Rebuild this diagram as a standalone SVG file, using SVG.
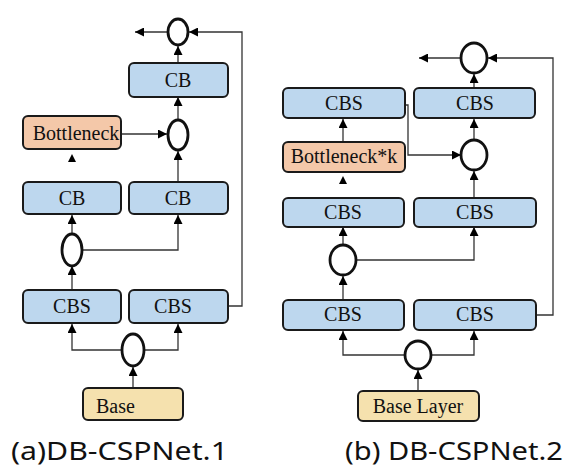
<svg xmlns="http://www.w3.org/2000/svg" width="569" height="466" viewBox="0 0 569 466">
<style>
.blue{fill:#BDD7EE;stroke:#1a1a1a;stroke-width:2}
.peach{fill:#F4C8A9;stroke:#1a1a1a;stroke-width:2}
.base{fill:#F5E1AE;stroke:#1a1a1a;stroke-width:2}
.op{fill:#fff;stroke:#111;stroke-width:2.8}
.t{font-family:"Liberation Serif","Times New Roman",serif;font-size:20px;fill:#111;text-anchor:middle}
.cap{font-family:"Noto Sans","Open Sans",sans-serif;font-size:25px;fill:#111}
.ln{fill:none;stroke:#333;stroke-width:1.3}
</style>
<defs>
<marker id="ah" viewBox="0 0 10 10" refX="10" refY="5" markerWidth="9" markerHeight="9" markerUnits="userSpaceOnUse" orient="auto">
<path d="M0,0 L10,5 L0,10 z" fill="#000"/>
</marker>
</defs>
<g id="connectors">
<path class="ln" d="M168,32 L135,32" marker-end="url(#ah)"/>
<path class="ln" d="M228,306 L242,306 L242,32 L189,32" marker-end="url(#ah)"/>
<path class="ln" d="M178,63 L178,46" marker-end="url(#ah)"/>
<path class="ln" d="M178,120 L178,97" marker-end="url(#ah)"/>
<path class="ln" d="M121,134 L167,134" marker-end="url(#ah)"/>
<path class="ln" d="M178,182 L178,151" marker-end="url(#ah)"/>
<path d="M68,162 L72,154 L76,162 z" fill="#000"/>
<path class="ln" d="M72,234 L72,215" marker-end="url(#ah)"/>
<path class="ln" d="M82,250 L178,250 L178,215" marker-end="url(#ah)"/>
<path class="ln" d="M72,290 L72,266" marker-end="url(#ah)"/>
<path class="ln" d="M122,350 L72,350 L72,324" marker-end="url(#ah)"/>
<path class="ln" d="M145,350 L178,350 L178,324" marker-end="url(#ah)"/>
<path class="ln" d="M133,388 L133,367" marker-end="url(#ah)"/>
<path class="ln" d="M461,58 L419,58" marker-end="url(#ah)"/>
<path class="ln" d="M536,315 L553,315 L553,58 L488,58" marker-end="url(#ah)"/>
<path class="ln" d="M474,88 L474,74" marker-end="url(#ah)"/>
<path class="ln" d="M474,140 L474,119" marker-end="url(#ah)"/>
<path class="ln" d="M405,105 L408,105 L408,155 L461,155" marker-end="url(#ah)"/>
<path class="ln" d="M343,142 L343,119" marker-end="url(#ah)"/>
<path d="M339,184 L343,176 L347,184 z" fill="#000"/>
<path class="ln" d="M474,198 L474,171" marker-end="url(#ah)"/>
<path class="ln" d="M343,245 L343,227" marker-end="url(#ah)"/>
<path class="ln" d="M356,260 L474,260 L474,227" marker-end="url(#ah)"/>
<path class="ln" d="M343,300 L343,276" marker-end="url(#ah)"/>
<path class="ln" d="M405,355 L343,355 L343,331" marker-end="url(#ah)"/>
<path class="ln" d="M431,355 L474,355 L474,331" marker-end="url(#ah)"/>
<path class="ln" d="M418,391 L418,370" marker-end="url(#ah)"/>
</g>
<g id="a_op_top"><ellipse class="op" cx="178" cy="32" rx="10" ry="13"/></g>
<g id="a_cb_top"><rect class="blue" x="129" y="63" width="99" height="34" rx="5"/><text class="t" x="178" y="87">CB</text></g>
<g id="a_op_mid"><ellipse class="op" cx="178" cy="135" rx="10" ry="15"/></g>
<g id="a_bottleneck"><rect class="peach" x="23" y="116" width="98" height="33" rx="5"/><text class="t" x="76" y="140" font-size="19">Bottleneck</text></g>
<g id="a_cb_left"><rect class="blue" x="23" y="182" width="98" height="32" rx="5"/><text class="t" x="72" y="205">CB</text></g>
<g id="a_cb_right"><rect class="blue" x="129" y="182" width="99" height="32" rx="5"/><text class="t" x="178" y="205">CB</text></g>
<g id="a_op_low"><ellipse class="op" cx="72" cy="250" rx="10" ry="16"/></g>
<g id="a_cbs_left"><rect class="blue" x="23" y="290" width="98" height="33" rx="5"/><text class="t" x="72" y="313">CBS</text></g>
<g id="a_cbs_right"><rect class="blue" x="129" y="290" width="99" height="33" rx="5"/><text class="t" x="173" y="313">CBS</text></g>
<g id="a_op_bottom"><ellipse class="op" cx="133" cy="350" rx="11" ry="16"/></g>
<g id="a_base"><rect class="base" x="83" y="388" width="100" height="32" rx="5"/><text class="t" x="96" y="413" style="text-anchor:start">Base</text></g>
<g id="b_op_top"><ellipse class="op" cx="474" cy="58" rx="13" ry="15"/></g>
<g id="b_cbs_tl"><rect class="blue" x="283" y="88" width="122" height="30" rx="5"/><text class="t" x="344" y="110">CBS</text></g>
<g id="b_cbs_tr"><rect class="blue" x="414" y="88" width="121" height="30" rx="5"/><text class="t" x="475" y="110">CBS</text></g>
<g id="b_op_mid"><ellipse class="op" cx="474" cy="155" rx="13" ry="15"/></g>
<g id="b_bottleneck"><rect class="peach" x="283" y="142" width="122" height="30" rx="5"/><text class="t" x="344" y="163" font-size="19">Bottleneck*k</text></g>
<g id="b_cbs_ml"><rect class="blue" x="283" y="198" width="121" height="29" rx="5"/><text class="t" x="343" y="219">CBS</text></g>
<g id="b_cbs_mr"><rect class="blue" x="414" y="198" width="122" height="29" rx="5"/><text class="t" x="475" y="219">CBS</text></g>
<g id="b_op_low"><ellipse class="op" cx="343" cy="260" rx="13" ry="15"/></g>
<g id="b_cbs_bl"><rect class="blue" x="283" y="300" width="121" height="30" rx="5"/><text class="t" x="343" y="321">CBS</text></g>
<g id="b_cbs_br"><rect class="blue" x="414" y="300" width="122" height="30" rx="5"/><text class="t" x="475" y="321">CBS</text></g>
<g id="b_op_bottom"><ellipse class="op" cx="418" cy="355" rx="13" ry="14"/></g>
<g id="b_base"><rect class="base" x="358" y="391" width="121" height="30" rx="5"/><text class="t" x="418" y="413">Base Layer</text></g>
<text class="cap" x="11" y="460" textLength="217" lengthAdjust="spacingAndGlyphs">(a)DB-CSPNet.1</text>
<text class="cap" x="345" y="460" textLength="218" lengthAdjust="spacingAndGlyphs">(b) DB-CSPNet.2</text>
</svg>
